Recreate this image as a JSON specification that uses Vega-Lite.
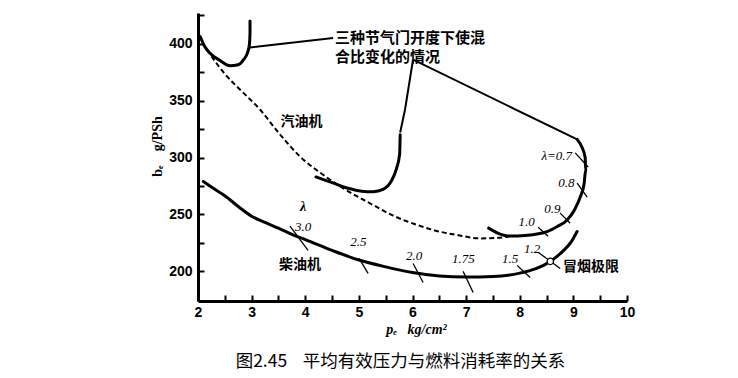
{
  "$schema": "https://vega.github.io/schema/vega-lite/v6.json",
  "width": 429,
  "height": 288,
  "autosize": "none",
  "padding": {"left": 198, "top": 13, "right": 111, "bottom": 77},
  "background": "white",
  "config": {
    "view": {"stroke": null},
    "axis": {"grid": false, "domainColor": "black", "tickColor": "black", "labelColor": "black", "titleColor": "black", "labelFont": "Liberation Sans", "labelFontWeight": "bold", "labelFontSize": 14, "titleFont": "Liberation Serif", "titleFontWeight": "bold", "titleFontSize": 14}
  },
  "title": {"text": "图2.45\u00a0\u00a0\u00a0\u00a0平均有效压力与燃料消耗率的关系", "orient": "bottom", "anchor": "middle", "dx": -12, "offset": 17, "font": "Noto Sans CJK SC", "fontSize": 17.5, "fontWeight": "normal", "color": "black"},
  "resolve": {"axis": {"x": "independent", "y": "independent"}},
  "datasets": {
    "curves": [
      {"s": "diesel", "k": "solid", "o": 0, "x": 2.1, "y": 279},
      {"s": "diesel", "k": "solid", "o": 1, "x": 2.3, "y": 272.5},
      {"s": "diesel", "k": "solid", "o": 2, "x": 2.5, "y": 266.5},
      {"s": "diesel", "k": "solid", "o": 3, "x": 2.75, "y": 257},
      {"s": "diesel", "k": "solid", "o": 4, "x": 3.0, "y": 248.5},
      {"s": "diesel", "k": "solid", "o": 5, "x": 3.25, "y": 243},
      {"s": "diesel", "k": "solid", "o": 6, "x": 3.5, "y": 238},
      {"s": "diesel", "k": "solid", "o": 7, "x": 3.75, "y": 232.5},
      {"s": "diesel", "k": "solid", "o": 8, "x": 4.0, "y": 228},
      {"s": "diesel", "k": "solid", "o": 9, "x": 4.5, "y": 218.5},
      {"s": "diesel", "k": "solid", "o": 10, "x": 5.0, "y": 210},
      {"s": "diesel", "k": "solid", "o": 11, "x": 5.5, "y": 204},
      {"s": "diesel", "k": "solid", "o": 12, "x": 6.0, "y": 199},
      {"s": "diesel", "k": "solid", "o": 13, "x": 6.5, "y": 196},
      {"s": "diesel", "k": "solid", "o": 14, "x": 7.0, "y": 195},
      {"s": "diesel", "k": "solid", "o": 15, "x": 7.5, "y": 195.5},
      {"s": "diesel", "k": "solid", "o": 16, "x": 8.0, "y": 198.5},
      {"s": "diesel", "k": "solid", "o": 17, "x": 8.3, "y": 202.5},
      {"s": "diesel", "k": "solid", "o": 18, "x": 8.57, "y": 208.8},
      {"s": "diesel", "k": "solid", "o": 19, "x": 8.82, "y": 218.5},
      {"s": "diesel", "k": "solid", "o": 20, "x": 8.96, "y": 226},
      {"s": "diesel", "k": "solid", "o": 21, "x": 9.07, "y": 235},
      {"s": "g1", "k": "solid", "o": 0, "x": 2.04, "y": 406.4},
      {"s": "g1", "k": "solid", "o": 1, "x": 2.12, "y": 398},
      {"s": "g1", "k": "solid", "o": 2, "x": 2.22, "y": 391.8},
      {"s": "g1", "k": "solid", "o": 3, "x": 2.41, "y": 385.3},
      {"s": "g1", "k": "solid", "o": 4, "x": 2.6, "y": 380.6},
      {"s": "g1", "k": "solid", "o": 5, "x": 2.75, "y": 381.5},
      {"s": "g1", "k": "solid", "o": 6, "x": 2.85, "y": 386},
      {"s": "g1", "k": "solid", "o": 7, "x": 2.93, "y": 393},
      {"s": "g1", "k": "solid", "o": 8, "x": 2.96, "y": 400},
      {"s": "g1", "k": "solid", "o": 9, "x": 2.97, "y": 410},
      {"s": "g1", "k": "solid", "o": 10, "x": 2.97, "y": 420},
      {"s": "g2", "k": "solid", "o": 0, "x": 4.2, "y": 283},
      {"s": "g2", "k": "solid", "o": 1, "x": 4.5, "y": 278},
      {"s": "g2", "k": "solid", "o": 2, "x": 4.8, "y": 273},
      {"s": "g2", "k": "solid", "o": 3, "x": 5.05, "y": 270.5},
      {"s": "g2", "k": "solid", "o": 4, "x": 5.27, "y": 270},
      {"s": "g2", "k": "solid", "o": 5, "x": 5.45, "y": 272},
      {"s": "g2", "k": "solid", "o": 6, "x": 5.6, "y": 279},
      {"s": "g2", "k": "solid", "o": 7, "x": 5.7, "y": 290},
      {"s": "g2", "k": "solid", "o": 8, "x": 5.76, "y": 303},
      {"s": "g2", "k": "solid", "o": 9, "x": 5.77, "y": 320},
      {"s": "g3", "k": "solid", "o": 0, "x": 7.42, "y": 238},
      {"s": "g3", "k": "solid", "o": 1, "x": 7.6, "y": 233.5},
      {"s": "g3", "k": "solid", "o": 2, "x": 7.82, "y": 231},
      {"s": "g3", "k": "solid", "o": 3, "x": 8.1, "y": 231.5},
      {"s": "g3", "k": "solid", "o": 4, "x": 8.35, "y": 233},
      {"s": "g3", "k": "solid", "o": 5, "x": 8.51, "y": 235},
      {"s": "g3", "k": "solid", "o": 6, "x": 8.7, "y": 239.5},
      {"s": "g3", "k": "solid", "o": 7, "x": 8.88, "y": 245},
      {"s": "g3", "k": "solid", "o": 8, "x": 9.02, "y": 254},
      {"s": "g3", "k": "solid", "o": 9, "x": 9.13, "y": 265.5},
      {"s": "g3", "k": "solid", "o": 10, "x": 9.2, "y": 277},
      {"s": "g3", "k": "solid", "o": 11, "x": 9.23, "y": 289},
      {"s": "g3", "k": "solid", "o": 12, "x": 9.22, "y": 300},
      {"s": "g3", "k": "solid", "o": 13, "x": 9.16, "y": 309},
      {"s": "g3", "k": "solid", "o": 14, "x": 9.07, "y": 316},
      {"s": "gd", "k": "dash", "o": 0, "x": 2.25, "y": 389},
      {"s": "gd", "k": "dash", "o": 1, "x": 2.5, "y": 373.5},
      {"s": "gd", "k": "dash", "o": 2, "x": 2.8, "y": 359},
      {"s": "gd", "k": "dash", "o": 3, "x": 3.16, "y": 342},
      {"s": "gd", "k": "dash", "o": 4, "x": 3.5, "y": 322},
      {"s": "gd", "k": "dash", "o": 5, "x": 3.9, "y": 301},
      {"s": "gd", "k": "dash", "o": 6, "x": 4.3, "y": 286},
      {"s": "gd", "k": "dash", "o": 7, "x": 4.71, "y": 273},
      {"s": "gd", "k": "dash", "o": 8, "x": 5.2, "y": 260},
      {"s": "gd", "k": "dash", "o": 9, "x": 5.64, "y": 249},
      {"s": "gd", "k": "dash", "o": 10, "x": 6.14, "y": 240},
      {"s": "gd", "k": "dash", "o": 11, "x": 6.5, "y": 235},
      {"s": "gd", "k": "dash", "o": 12, "x": 6.83, "y": 232},
      {"s": "gd", "k": "dash", "o": 13, "x": 7.26, "y": 229},
      {"s": "gd", "k": "dash", "o": 14, "x": 7.6, "y": 229.5},
      {"s": "gd", "k": "dash", "o": 15, "x": 7.82, "y": 231},
      {"s": "L1", "k": "leader", "o": 0, "x": 4.52, "y": 405},
      {"s": "L1", "k": "leader", "o": 1, "x": 2.97, "y": 396.7},
      {"s": "L2", "k": "leader", "o": 0, "x": 6.01, "y": 386},
      {"s": "L2", "k": "leader", "o": 1, "x": 5.86, "y": 342},
      {"s": "L2", "k": "leader", "o": 2, "x": 5.77, "y": 322},
      {"s": "L3", "k": "leader", "o": 0, "x": 6.01, "y": 386},
      {"s": "L3", "k": "leader", "o": 1, "x": 9.07, "y": 316},
      {"s": "t30", "k": "tick", "o": 0, "x": 3.716, "y": 239.7},
      {"s": "t30", "k": "tick", "o": 1, "x": 4.052, "y": 218.5},
      {"s": "t25", "k": "tick", "o": 0, "x": 5.004, "y": 211.5},
      {"s": "t25", "k": "tick", "o": 1, "x": 5.172, "y": 198.2},
      {"s": "t20", "k": "tick", "o": 0, "x": 6.011, "y": 207},
      {"s": "t20", "k": "tick", "o": 1, "x": 6.198, "y": 190.3},
      {"s": "t175", "k": "tick", "o": 0, "x": 6.944, "y": 200},
      {"s": "t175", "k": "tick", "o": 1, "x": 7.131, "y": 181.5},
      {"s": "t15", "k": "tick", "o": 0, "x": 7.951, "y": 205.3},
      {"s": "t15", "k": "tick", "o": 1, "x": 8.194, "y": 194.7},
      {"s": "t12", "k": "tick", "o": 0, "x": 8.343, "y": 216.8},
      {"s": "t12", "k": "tick", "o": 1, "x": 8.754, "y": 202.6},
      {"s": "t10", "k": "tick", "o": 0, "x": 8.343, "y": 238.8},
      {"s": "t10", "k": "tick", "o": 1, "x": 8.53, "y": 230.9},
      {"s": "t09", "k": "tick", "o": 0, "x": 8.754, "y": 251.2},
      {"s": "t09", "k": "tick", "o": 1, "x": 8.94, "y": 242.3},
      {"s": "t08", "k": "tick", "o": 0, "x": 9.071, "y": 277.6},
      {"s": "t08", "k": "tick", "o": 1, "x": 9.257, "y": 265.3},
      {"s": "t07", "k": "tick", "o": 0, "x": 9.034, "y": 304.1},
      {"s": "t07", "k": "tick", "o": 1, "x": 9.276, "y": 291.7}
    ],
    "nums": [
      {"t": "3.0", "x": 3.96, "y": 239},
      {"t": "2.5", "x": 4.99, "y": 225.9},
      {"t": "2.0", "x": 6.03, "y": 213.2},
      {"t": "1.75", "x": 6.95, "y": 211.2},
      {"t": "1.5", "x": 7.82, "y": 211.2},
      {"t": "1.2", "x": 8.23, "y": 220},
      {"t": "1.0", "x": 8.13, "y": 243.5},
      {"t": "0.9", "x": 8.61, "y": 254.4},
      {"t": "0.8", "x": 8.87, "y": 277.4},
      {"t": "λ=0.7", "x": 8.69, "y": 301.4}
    ],
    "cn": [
      {"t": "汽油机", "x": 3.93, "y": 331.5},
      {"t": "柴油机", "x": 3.9, "y": 205.3},
      {"t": "冒烟极限", "x": 9.33, "y": 203.8}
    ],
    "note": [
      {"t": "三种节气门开度下使混", "x": 4.556, "y": 405.3},
      {"t": "合比变化的情况", "x": 4.556, "y": 388.5}
    ],
    "smoke": [{"x": 8.57, "y": 208.8}],
    "lam": [{"t": "λ", "x": 3.96, "y": 256.7}]
  },
  "layer": [
    {
      "data": {"name": "curves"},
      "transform": [{"filter": "datum.k == 'solid'"}],
      "mark": {"type": "line", "color": "black", "strokeWidth": 3, "strokeCap": "round", "strokeJoin": "round", "interpolate": "monotone"},
      "encoding": {
        "x": {"field": "x", "type": "quantitative", "scale": {"domain": [2, 10], "nice": false, "zero": false},
          "axis": {"orient": "bottom", "values": [2, 3, 4, 5, 6, 7, 8, 9, 10], "domainWidth": 3, "ticks": false, "labelPadding": 4, "labelFlush": false, "labelOverlap": false,
            "title": "pₑ\u00a0\u00a0\u00a0kg/cm²", "titleX": 218, "titleY": 28, "titleBaseline": "middle", "titleFontStyle": "italic"}},
        "y": {"field": "y", "type": "quantitative", "scale": {"domain": [174, 427], "nice": false, "zero": false},
          "axis": {"orient": "left", "values": [200, 250, 300, 350, 400], "domainWidth": 3, "ticks": false, "labelPadding": 6, "labelFlush": false, "labelOverlap": false,
            "title": "bₑ\u00a0\u00a0\u00a0\u00a0g/PSh", "titleX": -41, "titleY": 133, "titleAngle": -90, "titleAlign": "center", "titleBaseline": "middle"}},
        "detail": {"field": "s"},
        "order": {"field": "o", "type": "quantitative"}
      }
    },
    {
      "data": {"name": "curves"},
      "transform": [{"filter": "datum.k == 'dash'"}],
      "mark": {"type": "line", "color": "black", "strokeWidth": 2, "strokeDash": [5, 3], "interpolate": "monotone"},
      "encoding": {
        "x": {"field": "x", "type": "quantitative",
          "axis": {"orient": "top", "offset": -288, "values": [2, 2.5, 3, 3.5, 4, 4.5, 5, 5.5, 6, 6.5, 7, 7.5, 8, 8.5, 9, 9.5, 10], "domain": false, "labels": false, "ticks": true, "tickSize": 6, "tickWidth": 2, "title": null}},
        "y": {"field": "y", "type": "quantitative",
          "axis": {"orient": "right", "offset": -429, "values": [200, 225, 250, 275, 300, 325, 350, 375, 400, 425], "domain": false, "labels": false, "ticks": true, "tickSize": 6, "tickWidth": 2, "title": null}},
        "detail": {"field": "s"},
        "order": {"field": "o", "type": "quantitative"}
      }
    },
    {
      "data": {"name": "curves"},
      "transform": [{"filter": "datum.k == 'leader'"}],
      "mark": {"type": "line", "color": "black", "strokeWidth": 2},
      "encoding": {
        "x": {"field": "x", "type": "quantitative", "axis": null},
        "y": {"field": "y", "type": "quantitative", "axis": null},
        "detail": {"field": "s"},
        "order": {"field": "o", "type": "quantitative"}
      }
    },
    {
      "data": {"name": "curves"},
      "transform": [{"filter": "datum.k == 'tick'"}],
      "mark": {"type": "line", "color": "black", "strokeWidth": 1.3},
      "encoding": {
        "x": {"field": "x", "type": "quantitative", "axis": null},
        "y": {"field": "y", "type": "quantitative", "axis": null},
        "detail": {"field": "s"},
        "order": {"field": "o", "type": "quantitative"}
      }
    },
    {
      "data": {"name": "smoke"},
      "mark": {"type": "point", "shape": "circle", "filled": true, "fill": "white", "stroke": "black", "strokeWidth": 1.3, "size": 40, "opacity": 1},
      "encoding": {
        "x": {"field": "x", "type": "quantitative", "axis": null},
        "y": {"field": "y", "type": "quantitative", "axis": null}
      }
    },
    {
      "data": {"name": "nums"},
      "mark": {"type": "text", "font": "Liberation Serif", "fontStyle": "italic", "fontSize": 13, "color": "black"},
      "encoding": {
        "x": {"field": "x", "type": "quantitative", "axis": null},
        "y": {"field": "y", "type": "quantitative", "axis": null},
        "text": {"field": "t"}
      }
    },
    {
      "data": {"name": "lam"},
      "mark": {"type": "text", "font": "Liberation Serif", "fontStyle": "italic", "fontWeight": "bold", "fontSize": 14, "color": "black"},
      "encoding": {
        "x": {"field": "x", "type": "quantitative", "axis": null},
        "y": {"field": "y", "type": "quantitative", "axis": null},
        "text": {"field": "t"}
      }
    },
    {
      "data": {"name": "cn"},
      "mark": {"type": "text", "font": "Noto Sans CJK SC", "fontWeight": "bold", "fontSize": 14, "color": "black"},
      "encoding": {
        "x": {"field": "x", "type": "quantitative", "axis": null},
        "y": {"field": "y", "type": "quantitative", "axis": null},
        "text": {"field": "t"}
      }
    },
    {
      "data": {"name": "note"},
      "mark": {"type": "text", "font": "Noto Sans CJK SC", "fontWeight": "bold", "fontSize": 15, "align": "left", "color": "black"},
      "encoding": {
        "x": {"field": "x", "type": "quantitative", "axis": null},
        "y": {"field": "y", "type": "quantitative", "axis": null},
        "text": {"field": "t"}
      }
    }
  ]
}
